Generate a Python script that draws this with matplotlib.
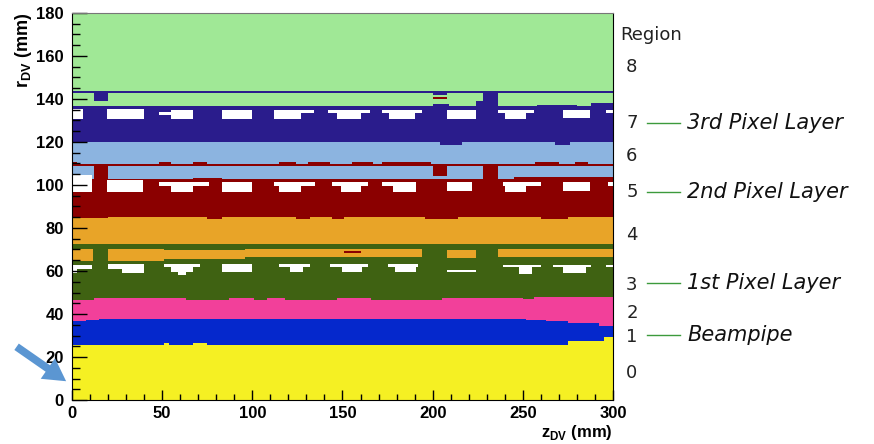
import numpy as np
import matplotlib
matplotlib.use('Agg')
import matplotlib.pyplot as plt
from matplotlib.colors import ListedColormap, BoundaryNorm

plt.rcParams['mathtext.fontset'] = 'custom'
plt.rcParams['mathtext.rm'] = 'Liberation Sans'
plt.rcParams['mathtext.bf'] = 'Liberation Sans:bold'

# colours of regions 0 (innermost) .. 8
region_colors = ['#f5f023', '#0528cc', '#f2409a', '#3f6212', '#e8a428',
                 '#8b0000', '#8cb4e0', '#2a1c8c', '#a0e896']

# lower edge (r, mm) of regions 1..8 as steps: (z where step starts, r)
edge1 = [(0, 25.6), (51, 26.4), (54, 25.6), (67, 26.4), (75, 25.6), (275, 27.4), (295, 28.8)]
edge2 = [(0, 36.5), (8, 37.2), (15, 37.7), (252, 37.2), (263, 36.4), (275, 35.3), (292, 34.4)]
edge3 = [(0, 46.5), (12, 47.3), (63, 46.3), (87, 47.3), (101, 46.3), (108, 47.3),
         (118, 46.3), (147, 47.3), (166, 46.5), (205, 47.3), (250, 46.8), (256, 47.9)]
edge4 = [(0, 72.5)]
edge5 = [(0, 84.4), (20, 85), (75, 84), (83, 85), (124, 84), (132, 85), (144, 84),
         (151, 85), (196, 84), (214, 85), (260, 84), (275, 85)]
edge6 = [(0, 102.3), (67, 103), (83, 102.3), (245, 103.5)]
edge7 = [(0, 119.5), (204, 118.6), (216, 119.5), (268, 118.6), (276, 119.5)]
edge8 = [(0, 136.3), (200, 137.5), (209, 136.3), (224, 138.5), (236, 136.3),
         (258, 137), (280, 136.5), (288, 138)]
edges = [edge1, edge2, edge3, edge4, edge5, edge6, edge7, edge8]

# cells of one region lying inside another: (region, z0, z1, r0, r1)
inserts = [
    (4, 0, 11.5, 64.3, 69.8), (4, 20, 51, 64.5, 69.8), (4, 51, 96, 65.5, 69.3),
    (4, 96, 194, 66.5, 69.8), (4, 208, 224, 66, 69.5), (4, 236, 300, 66.5, 69.8),
    (5, 151, 160, 67.9, 68.9),
    (5, 0, 300, 108.6, 109.6),
    (5, 0, 3, 109.6, 110.5), (5, 48, 55, 109.6, 110.5), (5, 67, 75, 109.6, 110.5),
    (5, 115, 124, 109.6, 110.5), (5, 131, 143, 109.6, 110.5), (5, 155, 167, 109.6, 110.5),
    (5, 172, 199, 109.6, 110.5), (5, 257, 270, 109.6, 110.5), (5, 279, 286, 109.6, 110.5),
    (5, 12, 20, 102, 109), (5, 200, 208, 104, 109), (5, 228, 236, 102, 109),
    (7, 0, 300, 142.4, 143.4),
    (7, 12, 20, 138.6, 143), (7, 200, 208, 141.4, 143), (7, 228, 236, 136, 143),
    (5, 200, 208, 139.5, 140.5),
]

# empty cells in the pixel layers: (z0, z1, r0, r1)
gaps3 = [(0, 3, 59, 62.5), (3, 11, 61.2, 62.5), (20, 28, 61, 62.8), (28, 40, 59, 62.8),
         (51, 71, 61.5, 62.8), (55, 67, 59.3, 61.5), (59, 63, 58, 59.3), (83, 100, 59.5, 62.8),
         (115, 132, 61.5, 62.8), (121, 128, 59.3, 61.5), (143, 164, 61.5, 62.8),
         (150, 161, 59.3, 61.5), (175, 192, 61.5, 62.8), (179, 191, 59.3, 61.5),
         (208, 224, 59.3, 60.5), (239, 260, 61.3, 62.3), (248, 255, 58.3, 61.3),
         (267, 288, 61.3, 62.3), (272, 285, 59, 61.3), (296, 300, 61.3, 62.3)]
gaps5 = [(0, 11, 96.3, 104.6), (19.5, 39.5, 96.3, 102), (48, 76, 99.5, 101.2),
         (55, 67, 96.3, 99.5), (83, 100, 96.5, 101.2), (112, 135, 99.5, 101.2),
         (115, 127, 96.5, 99.5), (144, 164, 99.5, 101.2), (149, 160, 96.3, 99.5),
         (172, 191, 99.5, 101.2), (178, 191, 96.3, 99.5), (208, 222, 97, 101.2),
         (239, 260, 99.5, 101.2), (240, 252, 96.3, 99.5), (272, 287, 97, 101.2),
         (297, 300, 99.5, 101.2)]
gaps7 = [(0, 6, 130.7, 134.9), (19.5, 40, 130.7, 134.9), (48, 55, 132, 133.5),
         (55, 67, 130.7, 134.5), (83, 100, 130.7, 134.5), (112, 127, 130.7, 134.5),
         (126, 134, 133, 134.5), (142, 165, 133, 134.5), (147, 160, 130.7, 133),
         (172, 194, 133, 134.5), (176, 190, 130.7, 133), (208, 224, 130.7, 134.5),
         (236, 256, 133, 134.5), (240, 252, 130.7, 133), (272, 287, 131, 134.5),
         (296, 300, 133, 134.5)]

region_names = ['0', '1', '2', '3', '4', '5', '6', '7', '8']
layer_names = ['3rd Pixel Layer', '2nd Pixel Layer', '1st Pixel Layer', 'Beampipe']

# build the region map on a 0.5 mm grid
zc = np.arange(0.25, 300, 0.5)
rc = np.arange(0.25, 180, 0.5)
grid = np.zeros((len(rc), len(zc)))


def step_value(edge, z):
    starts = np.array([e[0] for e in edge])
    vals = np.array([e[1] for e in edge])
    return vals[np.searchsorted(starts, z, side='right') - 1]


for k, edge in enumerate(edges, start=1):
    lo = step_value(edge, zc)
    grid[rc[:, None] >= lo[None, :]] = k

for reg, z0, z1, r0, r1 in inserts:
    rows = (rc >= r0) & (rc < r1)
    cols = (zc >= z0) & (zc < z1)
    grid[np.ix_(rows, cols)] = reg

for z0, z1, r0, r1 in gaps3 + gaps5 + gaps7:
    rows = (rc >= r0) & (rc < r1)
    cols = (zc >= z0) & (zc < z1)
    grid[np.ix_(rows, cols)] = -1

grid = np.ma.masked_less(grid, 0)

cmap = ListedColormap(region_colors)
cmap.set_bad('white')
norm = BoundaryNorm(np.arange(-0.5, 9.5), cmap.N)

fig = plt.figure(figsize=(8.74, 4.44), dpi=100)
ax = fig.add_axes([72 / 874, 44 / 444, 541 / 874, 387 / 444])
ax.imshow(grid, origin='lower', extent=[0, 300, 0, 180], aspect='auto',
          interpolation='nearest', cmap=cmap, norm=norm)

ax.set_xlim(0, 300)
ax.set_ylim(0, 180)
ax.set_xticks(np.arange(0, 301, 50))
ax.set_xticks(np.arange(0, 301, 10), minor=True)
ax.set_yticks(np.arange(0, 181, 20))
ax.set_yticks(np.arange(0, 181, 5), minor=True)
ax.tick_params(axis='x', which='major', direction='in', length=7, width=1, pad=4)
ax.tick_params(axis='x', which='minor', direction='in', length=4, width=1)
ax.tick_params(axis='y', which='major', direction='in', length=11, width=1, pad=6)
ax.tick_params(axis='y', which='minor', direction='in', length=6, width=1)
for lab in ax.get_xticklabels() + ax.get_yticklabels():
    lab.set_fontfamily('Liberation Sans')
    lab.set_fontweight('bold')
    lab.set_fontsize(12)
ax.spines['top'].set_color('#777777')

ax.set_xlabel(r'z$_{\mathbf{DV}}$ (mm)', loc='right', fontfamily='Liberation Sans',
              fontweight='bold', fontsize=12)
ax.xaxis.set_label_coords(1.0, -0.06)
ax.set_ylabel(r'r$_{\mathbf{DV}}$ (mm)', loc='top', fontfamily='Liberation Sans',
              fontweight='bold', fontsize=13)
ax.yaxis.set_label_coords(-0.07, 1.0)

# region numbers and layer names on the right
trans = ax.get_yaxis_transform()
label_r = [12.6, 29.3, 40.5, 53.5, 76.7, 96.7, 113.5, 128.8, 154.9]
ax.text(1.013, 169.8, 'Region', transform=trans, ha='left', va='center',
        fontsize=13, color='#222222')
for name, r in zip(region_names, label_r):
    ax.text(1.035, r, name, transform=trans, ha='center', va='center',
            fontsize=13, color='#222222')
layer_r = [128.8, 96.7, 54.4, 30.2]
for name, r in zip(layer_names, layer_r):
    ax.plot([1.063, 1.124], [r, r], transform=trans, color='#3c9a3c', lw=1,
            clip_on=False)
    ax.text(1.137, r, name, transform=trans, ha='left', va='center',
            fontsize=15, style='italic', color='#111111')

# arrow pointing at the origin
ax.annotate('', xy=(-2, 8), xytext=(-32, 25.5), annotation_clip=False,
            arrowprops=dict(arrowstyle='simple,head_length=0.8,head_width=0.9,tail_width=0.28',
                            mutation_scale=20, color='#5b96d2', lw=0))

fig.savefig('out.png', dpi=100, facecolor='white')
